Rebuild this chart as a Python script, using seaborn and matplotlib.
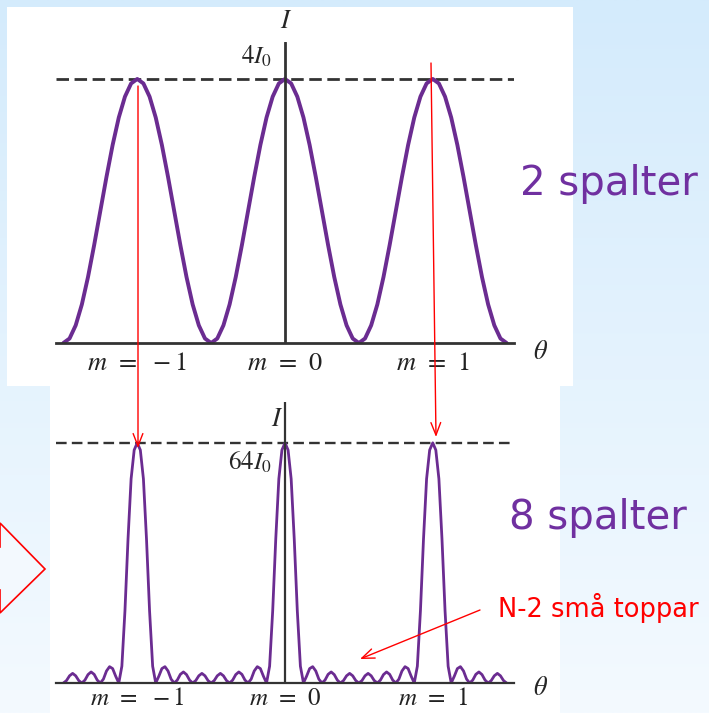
import numpy as np
import pandas as pd
import matplotlib.pyplot as plt
import seaborn as sns
from matplotlib.patches import Rectangle, Polygon

# intensity for 2 slits (units of 4*I0), sampled every 1/24 of an order, theta from -1.5 to 1.5
I_two = [0, .017, .067, .146, .25, .371, .5, .629, .75, .854, .933, .983,
         1, .983, .933, .854, .75, .629, .5, .371, .25, .146, .067, .017,
         0, .017, .067, .146, .25, .371, .5, .629, .75, .854, .933, .983,
         1, .983, .933, .854, .75, .629, .5, .371, .25, .146, .067, .017,
         0, .017, .067, .146, .25, .371, .5, .629, .75, .854, .933, .983,
         1, .983, .933, .854, .75, .629, .5, .371, .25, .146, .067, .017, 0]

# intensity for 8 slits (units of 64*I0), sampled every 1/48 of an order
I_eight = [0, .01, .03, .04, .03, .01, 0, .012, .035, .046, .036, .012,
           0, .016, .05, .068, .06, .028, 0, .07, .3, .6, .85, .97,
           1,
           .97, .85, .6, .3, .07, 0, .028, .06, .068, .05, .016, 0,
           .012, .036, .046, .035, .012, 0, .01, .03, .04, .03, .01, 0,
           .01, .03, .04, .03, .01, 0, .012, .035, .046, .036, .012,
           0, .016, .05, .068, .06, .028, 0, .07, .3, .6, .85, .97,
           1,
           .97, .85, .6, .3, .07, 0, .028, .06, .068, .05, .016, 0,
           .012, .036, .046, .035, .012, 0, .01, .03, .04, .03, .01, 0,
           .01, .03, .04, .03, .01, 0, .012, .035, .046, .036, .012,
           0, .016, .05, .068, .06, .028, 0, .07, .3, .6, .85, .97,
           1,
           .97, .85, .6, .3, .07, 0, .028, .06, .068, .05, .016, 0,
           .012, .036, .046, .035, .012, 0, .01, .03, .04, .03, .01, 0]

orders = [-1, 0, 1]
order_labels = [r'$m\;\,=\;\,-1$', r'$m\;\,=\;\,0$', r'$m\;\,=\;\,1$']

two = pd.DataFrame({'theta': np.arange(-36, 37) / 24, 'I': I_two})
eight = pd.DataFrame({'theta': np.arange(-72, 73) / 48, 'I': I_eight})

sns.set_style('white')
plt.rcParams['mathtext.fontset'] = 'stix'
plt.rcParams['font.family'] = ['DejaVu Sans']

W, H = 709, 713
purple = '#6b2c91'
axis_col = '#333333'
fig = plt.figure(figsize=(W / 100, H / 100), dpi=100)


def box(x0, y0, x1, y1):
    # pixel box (top-left origin) -> figure fraction rect
    return [x0 / W, 1 - y1 / H, (x1 - x0) / W, (y1 - y0) / H]


# background gradient
bg = fig.add_axes([0, 0, 1, 1], zorder=-10)
grad = np.linspace(0, 1, 256)[:, None, None]
top_c = np.array([212, 235, 252]) / 255
bot_c = np.array([244, 250, 255]) / 255
bg.imshow(top_c + (bot_c - top_c) * grad, aspect='auto', extent=[0, 1, 0, 1])
bg.set_axis_off()

# white panels
for x0, y0, x1, y1 in [(7, 7, 573, 386), (50, 386, 560, 713)]:
    fig.add_artist(Rectangle((x0 / W, 1 - y1 / H), (x1 - x0) / W, (y1 - y0) / H,
                             transform=fig.transFigure, facecolor='white',
                             edgecolor='none', zorder=-5))


def style_axes(ax, ymax, lw_axis, size, pad):
    ax.set_facecolor('none')
    ax.set_xlim(-1.55, 1.55)
    ax.set_ylim(0, ymax)
    for s in ['top', 'right', 'left']:
        ax.spines[s].set_visible(False)
    ax.spines['bottom'].set_color(axis_col)
    ax.spines['bottom'].set_linewidth(lw_axis)
    ax.axvline(0, color=axis_col, lw=lw_axis, zorder=3)
    ax.set_yticks([])
    ax.set_xticks(orders)
    ax.set_xticklabels(order_labels, fontsize=size, color='#222222')
    ax.tick_params(axis='x', direction='in', length=8, width=1.2,
                   color=axis_col, pad=pad)


# 2 slits
ax1 = fig.add_axes(box(56, 42, 514, 343))
style_axes(ax1, 1.14, 2.0, 19, 5)
ax1.axhline(1, color=axis_col, lw=2.0, ls=(0, (4.5, 2)), zorder=1)
sns.lineplot(data=two, x='theta', y='I', ax=ax1, color=purple, lw=2.8, zorder=2)
ax1.set_xlabel('')
ax1.set_ylabel('')
ax1.text(0.01, 1.22, r'$I$', fontsize=19, ha='center', va='center')
ax1.text(-0.19, 1.085, r'$4I_0$', fontsize=18, ha='center', va='center')
ax1.text(1.73, -0.034, r'$\theta$', fontsize=19, ha='center', va='center')

# 8 slits
ax2 = fig.add_axes(box(56, 402, 514, 683))
style_axes(ax2, 1.17, 1.6, 18, 2)
ax2.axhline(1, color=axis_col, lw=1.7, ls=(0, (4.5, 2.2)), zorder=1)
sns.lineplot(data=eight, x='theta', y='I', ax=ax2, color=purple, lw=2.0, zorder=2)
ax2.set_xlabel('')
ax2.set_ylabel('')
ax2.text(-0.054, 1.10, r'$I$', fontsize=19, ha='center', va='center')
ax2.text(-0.236, 0.92, r'$64I_0$', fontsize=18, ha='center', va='center')
ax2.text(1.73, -0.02, r'$\theta$', fontsize=19, ha='center', va='center')

# overlay for text and arrows
top = fig.add_axes([0, 0, 1, 1], zorder=10)
top.set_axis_off()
top.patch.set_alpha(0)

top.text(609 / W, 1 - 184 / H, '2 spalter', fontsize=29, color='#7030a0',
         ha='center', va='center', transform=top.transAxes)
top.text(598 / W, 1 - 518 / H, '8 spalter', fontsize=29, color='#7030a0',
         ha='center', va='center', transform=top.transAxes)
top.text(598 / W, 1 - 608 / H, 'N-2 små toppar', fontsize=18.5, color='red',
         ha='center', va='center', transform=top.transAxes)

# red arrows (figure pixels, bottom-left origin)
arrow_kw = dict(arrowstyle='->,head_length=0.9,head_width=0.35', color='red',
                lw=1.0, shrinkA=0, shrinkB=0)
for start, end in [((138, H - 86), (138, H - 448)),
                   ((431, H - 63), (436, H - 437)),
                   ((480, H - 610), (360, H - 659))]:
    top.annotate('', xy=end, xytext=start, xycoords='figure pixels',
                 textcoords='figure pixels', arrowprops=arrow_kw)

# block arrow tip at the left edge
tip = [(-5, 547), (0, 547), (0, 523), (45, 569), (0, 613), (0, 590), (-5, 590)]
top.add_patch(Polygon([(x / W, 1 - y / H) for x, y in tip], closed=True,
                      transform=top.transAxes, facecolor='#f3f9fe',
                      edgecolor='red', lw=1.2))

fig.savefig('out.png', dpi=100)
